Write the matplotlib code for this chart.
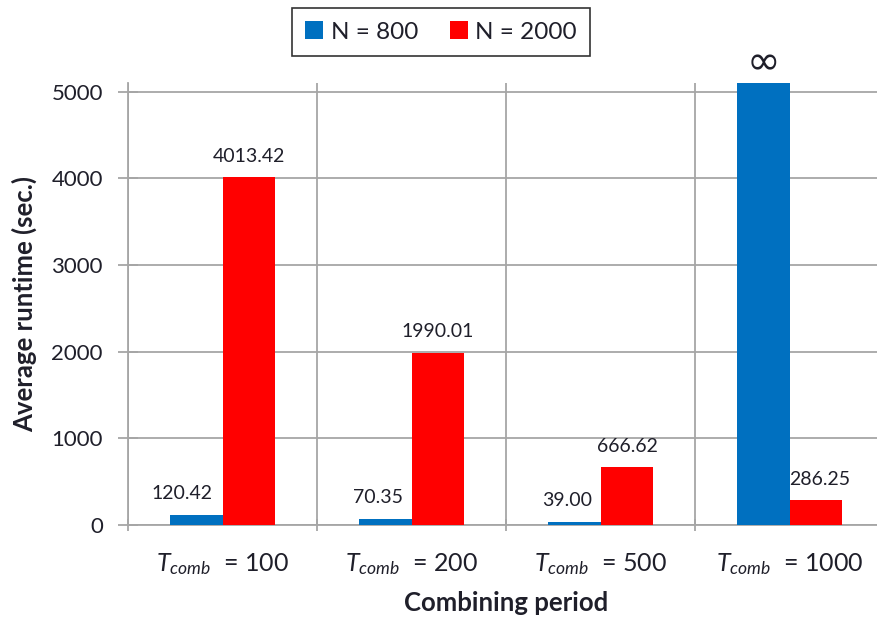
import matplotlib
matplotlib.use("Agg")
import matplotlib.pyplot as plt
import numpy as np
from matplotlib.patches import Patch

plt.rcParams['font.family'] = ['Lato', 'DejaVu Sans']
plt.rcParams['mathtext.fontset'] = 'custom'
plt.rcParams['mathtext.it'] = 'Lato:italic'
plt.rcParams['mathtext.rm'] = 'Lato'

# Data
periods = ["100", "200", "500", "1000"]
series_names = ["N = 800", "N = 2000"]
runtime_n800 = [120.42, 70.35, 39.00, 5100.0]   # last run never finished (drawn as ∞)
runtime_n2000 = [4013.42, 1990.01, 666.62, 286.25]
labels_n800 = ["120.42", "70.35", "39.00", "\u221e"]
labels_n2000 = ["4013.42", "1990.01", "666.62", "286.25"]
yticks = [0, 1000, 2000, 3000, 4000, 5000]

blue = "#0070C0"
red = "#FF0000"
grid_c = "#A6A6A6"
text_c = "#1F1F2A"

fig = plt.figure(figsize=(8.77, 6.18), dpi=100)
ax = fig.add_axes([128 / 877, 93 / 618, 756 / 877, 442 / 618])

x = np.arange(len(periods))
w = 0.28
b1 = ax.bar(x - w / 2, runtime_n800, w, color=blue, zorder=3)
b2 = ax.bar(x + w / 2, runtime_n2000, w, color=red, zorder=3)

ax.set_xlim(-0.5, len(periods) - 0.5)
ax.set_ylim(0, 5100)

# value labels
nudge_n800 = [-14, -7, -7, 0]
nudge_n2000 = [0, 0, 0, 4]
for rect, lab, dx in zip(b1, labels_n800, nudge_n800):
    big = lab == "\u221e"
    ax.annotate(lab, (rect.get_x() + rect.get_width() / 2, rect.get_height()),
                xytext=(dx * 0.72, 14 if big else 15.1), textcoords="offset points",
                ha="center", va="center", fontsize=29 if big else 14,
                color=text_c, annotation_clip=False,
                family=['DejaVu Sans'] if big else None)
for rect, lab, dx in zip(b2, labels_n2000, nudge_n2000):
    ax.annotate(lab, (rect.get_x() + rect.get_width() / 2, rect.get_height()),
                xytext=(dx * 0.72, 15.1), textcoords="offset points",
                ha="center", va="center", fontsize=14, color=text_c,
                annotation_clip=False)

# axes styling
ax.set_yticks(yticks)
ax.set_yticklabels([str(v) for v in yticks], fontsize=16, color=text_c)
ax.set_xticks(x)
ax.set_xticklabels([r"$T_{comb}$  = " + p for p in periods], fontsize=18, color=text_c)
ax.set_xticks(np.arange(len(periods) + 1) - 0.5, minor=True)

ax.tick_params(axis='y', direction='inout', length=14, width=1.3, color=grid_c, pad=11)
ax.tick_params(axis='x', which='major', length=0, pad=19)
ax.tick_params(axis='x', which='minor', direction='inout', length=9, width=1.3, color=grid_c)

ax.grid(axis='y', which='major', color=grid_c, linewidth=1.3, zorder=0)
ax.grid(axis='x', which='minor', color=grid_c, linewidth=1.3, zorder=0)
ax.set_axisbelow(True)

for s in ['top', 'right']:
    ax.spines[s].set_visible(False)
for s in ['left', 'bottom']:
    ax.spines[s].set_color(grid_c)
    ax.spines[s].set_linewidth(1.3)

ax.set_ylabel("Average runtime (sec.)", fontsize=18.5, fontweight='bold', color=text_c, labelpad=10)
ax.set_xlabel("Combining period", fontsize=18.5, fontweight='bold', color=text_c, labelpad=10)

handles = [Patch(facecolor=blue), Patch(facecolor=red)]
leg = fig.legend(handles, series_names, loc='upper center', bbox_to_anchor=(441 / 877, 1 - 8 / 618),
                 ncol=2, fontsize=17.5, frameon=True, fancybox=False, edgecolor='black',
                 handlelength=0.75, handleheight=0.75, handletextpad=0.3, columnspacing=1.3,
                 borderpad=0.55, borderaxespad=0)
leg.get_frame().set_linewidth(1.2)
for t in leg.get_texts():
    t.set_color(text_c)

fig.savefig("out.png", dpi=100)
